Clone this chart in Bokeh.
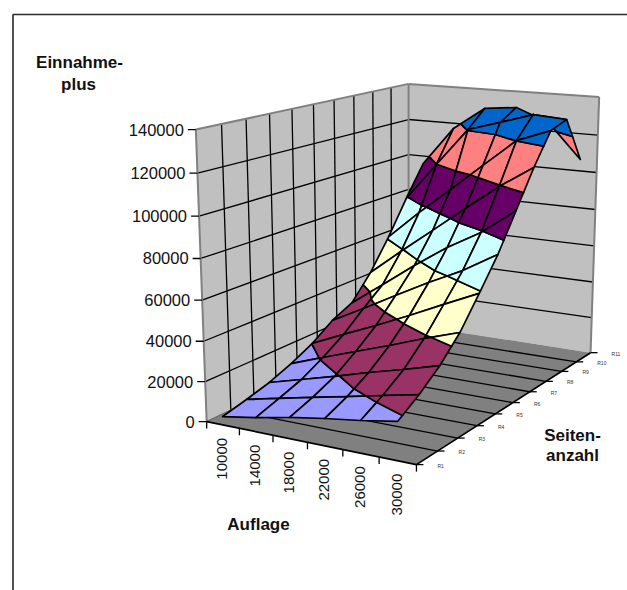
import numpy as np
from bokeh.plotting import figure
from bokeh.models import Range1d, ColumnDataSource
from bokeh.core.properties import value
from bokeh.embed import file_html
from bokeh.resources import INLINE

auflage = ["10000","14000","18000","22000","26000","30000"]
series = ["R1","R2","R3","R4","R5","R6","R7","R8","R9","R10","R11"]
z_ticks = [0,20000,40000,60000,80000,100000,120000,140000]
R1  = [4200,7000,10400,13200,15600,18500]
R2  = [7000,10700,14400,18000,21700,25300]
R3  = [10100,14700,19300,24300,28800,33700]
R4  = [14600,20700,26700,32600,38900,44600]
R5  = [20100,27700,35100,42900,51100,59100]
R6  = [27600,36700,46100,55300,63800,74200]
R7  = [32500,45000,57700,69400,79300,92400]
R8  = [45000,59000,72500,86100,99400,110800]
R9  = [61000,76500,91000,105600,120200,126800]
R10 = [79000,100000,120500,125700,131200,130000]
R11 = [95800,117100,129500,131300,124600,106200]
Z = [R1,R2,R3,R4,R5,R6,R7,R8,R9,R10,R11]
band_colors = ["#9999FF","#993366","#FFFFCC","#CCFFFF","#660066","#FF8080","#0066CC"]
WALL,FLOOR,EDGE = "#C0C0C0","#808080","#808080"
FONT = value("Liberation Sans")
nc,nr,zmax = len(auflage),len(series),z_ticks[-1]

# camera fitted to the corners of the chart box
cal = [((0,0,0),(206.5,421)),((1,0,0),(416,465)),((1,1,0),(590,351)),((0,1,0),(408,325)),
       ((0,0,1),(195,130)),((0,1,1),(408,83)),((1,1,1),(599,97)),
       ((1,.5,0),(512,402)),((.5,0,0),(307,442)),((0,0,.5),(201,277))]
A=[]
for (u,v,w),(x,y) in cal:
    x/=500;y/=500
    A.append([u,v,w,1,0,0,0,0,-x*u,-x*v,-x*w,-x])
    A.append([0,0,0,0,u,v,w,1,-y*u,-y*v,-y*w,-y])
P=np.linalg.svd(np.array(A))[2][-1].reshape(3,4)
P[:2]*=500
def proj(u,v,w):
    h=P@np.array([u,v,w,1.0]); return h[0]/h[2],h[1]/h[2]

p=figure(width=627,height=590,output_backend="svg",toolbar_location=None,x_range=Range1d(0,627),y_range=Range1d(590,0),min_border=0,outline_line_color=None,background_fill_color="white",border_fill_color="white")
p.axis.visible=False;p.grid.visible=False
p.line([12.5,12.5,627],[590,14,14],line_color="#2a2a2a",line_width=1.6)
def seg(a,b,color="black",w=1.3):
    pa,pb=proj(*a),proj(*b); p.line([pa[0],pb[0]],[pa[1],pb[1]],line_color=color,line_width=w)
def poly(pts,c):
    q=[proj(*t) for t in pts]; p.patch([a for a,b in q],[b for a,b in q],fill_color=c,line_color=None)
poly([(0,0,0),(0,1,0),(0,1,1),(0,0,1)],WALL)
poly([(0,1,0),(1,1,0),(1,1,1),(0,1,1)],WALL)
poly([(0,0,0),(1,0,0),(1,1,0),(0,1,0)],FLOOR)
for k in range(1,len(z_ticks)-1):
    w=z_ticks[k]/zmax
    seg((0,0,w),(0,1,w)); seg((0,1,w),(1,1,w))
for k in range(1,nr-1):
    v=k/(nr-1)
    seg((0,v,0),(0,v,1)); seg((0,v,0),(1,v,0))
seg((0,0,1),(0,1,1),EDGE,2);seg((0,1,1),(1,1,1),EDGE,2)
seg((0,0,0),(0,0,1),EDGE,2);seg((0,1,0),(0,1,1),EDGE,2);seg((1,1,0),(1,1,1),EDGE,2)
seg((0,0,0),(0,1,0),"#666666",1.2)
seg((0,0,0),(1,0,0),"black",1.7);seg((1,0,0),(1,1,0),"black",1.7)

# ticks and labels
for t in z_ticks:
    x,y=proj(0,0,t/zmax)
    p.line([x-8,x],[y,y],line_color="black",line_width=1.3)
    p.text([x-12],[y],text=[str(t)],text_font=FONT,text_font_size="16.5px",text_align="right",text_baseline="middle",text_color="#111111")
for c in range(nc+1):
    x,y=proj(c/nc,0,0)
    p.line([x,x],[y,y+7],line_color="black",line_width=1.3)
for c,lab in enumerate(auflage):
    x,y=proj((c+.5)/nc,0,0)
    p.text([x-1],[y+13],text=[lab],text_font=FONT,text_font_size="15px",text_align="right",text_baseline="middle",angle=np.pi/2,text_color="#111111")
for r,lab in enumerate(series):
    x,y=proj(1,r/(nr-1),0)
    p.line([x,x+7],[y,y],line_color="black",line_width=1.3)
    p.text([x+21],[y+1],text=[lab],text_font=FONT,text_font_size="5px",text_align="left",text_baseline="middle",text_color="#333333")
def title(x,y,s):
    p.text([x],[y],text=[s],text_font=FONT,text_font_size="17px",text_font_style="bold",text_align="center",text_baseline="middle",text_color="#111111")
title(79,62,"Einnahme-");title(78,84,"plus")
title(572,435,"Seiten-");title(572,455,"anzahl")
title(258,524,"Auflage")

def clip(poly3,lo,hi):
    def one(pts,lev,keep_above):
        out=[]
        for i in range(len(pts)):
            a,b=pts[i],pts[(i+1)%len(pts)]
            ina=(a[2]>=lev) if keep_above else (a[2]<=lev)
            inb=(b[2]>=lev) if keep_above else (b[2]<=lev)
            if ina: out.append(a)
            if ina!=inb:
                t=(lev-a[2])/(b[2]-a[2]); out.append(tuple(a[j]+t*(b[j]-a[j]) for j in range(3)))
        return out
    pts=one(poly3,lo,True)
    if pts: pts=one(pts,hi,False)
    return pts
xs,ys,fc=[],[],[]
for r in range(nr-2,-1,-1):
    for c in range(nc-1):
        q=[((c+.5)/nc,r/(nr-1),Z[r][c]),((c+1.5)/nc,r/(nr-1),Z[r][c+1]),((c+1.5)/nc,(r+1)/(nr-1),Z[r+1][c+1]),((c+.5)/nc,(r+1)/(nr-1),Z[r+1][c])]
        for b in range(len(band_colors)):
            pts=clip(q,z_ticks[b],z_ticks[b+1])
            if len(pts)>=3:
                pr=[proj(t[0],t[1],t[2]/zmax) for t in pts]
                xs.append([a for a,_ in pr]);ys.append([b2 for _,b2 in pr]);fc.append(band_colors[b])
p.patches(xs="xs",ys="ys",fill_color="fc",line_color="black",line_width=1.7,line_join="round",source=ColumnDataSource(dict(xs=xs,ys=ys,fc=fc)))
open("out.html","w").write(file_html(p,INLINE))
